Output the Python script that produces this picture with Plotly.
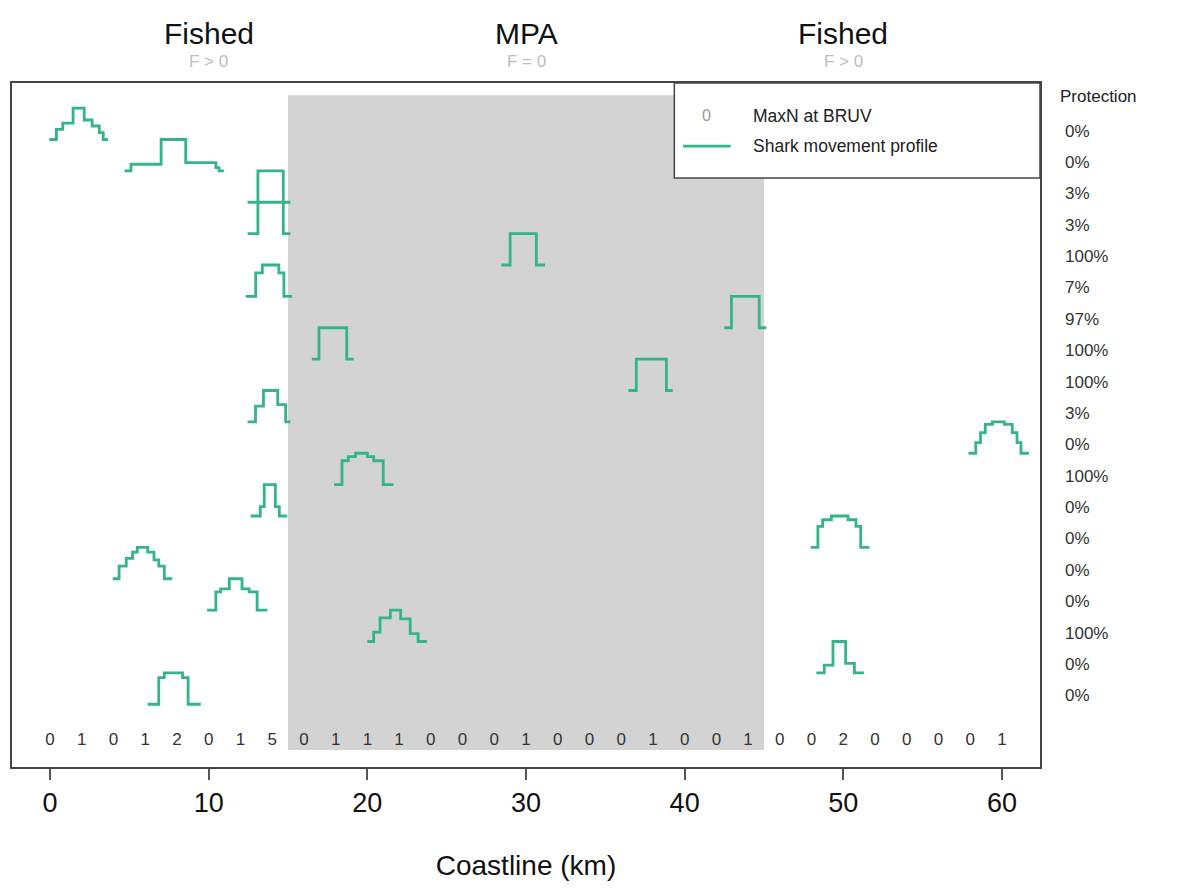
import plotly.graph_objects as go

# ---------------- data ----------------
bruv_km = [0, 2, 4, 6, 8, 10, 12, 14, 16, 18, 20, 22, 24, 26, 28, 30,
           32, 34, 36, 38, 40, 42, 44, 46, 48, 50, 52, 54, 56, 58, 60]
bruv_maxn = [0, 1, 0, 1, 2, 0, 1, 5, 0, 1, 1, 1, 0, 0, 0, 1,
             0, 0, 0, 1, 0, 0, 1, 0, 0, 2, 0, 0, 0, 0, 1]

protection = ["0%", "0%", "3%", "3%", "100%", "7%", "97%", "100%", "100%", "3%",
              "0%", "100%", "0%", "0%", "0%", "0%", "100%", "0%", "0%"]

# step edges (km) and relative heights for each shark movement profile (top row first)
profile_edges = [
    [-0.05, 0.4, 0.8, 1.45, 2.15, 2.65, 3.1, 3.35, 3.65],
    [4.7, 5.1, 7.0, 8.55, 10.45, 10.65, 10.95],
    [12.45, 13.1, 14.7, 15.15],
    [12.45, 13.1, 14.7, 15.15],
    [28.45, 29.0, 30.65, 31.2],
    [12.33, 12.96, 13.38, 14.42, 14.74, 15.26],
    [42.5, 42.95, 44.7, 45.15],
    [16.5, 16.95, 18.7, 19.15],
    [36.45, 36.95, 38.85, 39.25],
    [12.45, 12.95, 13.45, 14.35, 14.85, 15.15],
    [57.9, 58.35, 58.65, 58.95, 59.4, 60.15, 60.65, 60.95, 61.2, 61.7],
    [17.9, 18.4, 18.8, 19.25, 20.0, 20.4, 21.0, 21.65],
    [12.65, 13.25, 13.5, 14.2, 14.45, 14.95],
    [47.95, 48.4, 48.7, 49.25, 50.3, 50.8, 51.1, 51.65],
    [3.95, 4.35, 4.8, 5.2, 5.5, 6.15, 6.55, 6.85, 7.2, 7.7],
    [9.9, 10.45, 10.75, 11.3, 12.1, 12.55, 13.05, 13.7],
    [20.0, 20.4, 20.8, 21.45, 22.1, 22.7, 23.2, 23.75],
    [48.3, 48.8, 49.35, 50.15, 50.7, 51.3],
    [6.15, 6.85, 7.2, 8.35, 8.7, 9.5],
]
profile_heights = [
    [0, 0.32, 0.52, 1, 0.62, 0.43, 0.22, 0],
    [0, 0.21, 1, 0.26, 0.1, 0],
    [0, 1, 0],
    [0, 1, 0],
    [0, 1, 0],
    [0, 0.75, 1, 0.75, 0],
    [0, 1, 0],
    [0, 1, 0],
    [0, 1, 0],
    [0, 0.5, 1, 0.55, 0],
    [0, 0.34, 0.66, 0.92, 1, 0.92, 0.66, 0.34, 0],
    [0, 0.76, 0.89, 1, 0.89, 0.76, 0],
    [0, 0.3, 1, 0.3, 0],
    [0, 0.67, 0.88, 1, 0.88, 0.67, 0],
    [0, 0.4, 0.65, 0.85, 1, 0.85, 0.6, 0.4, 0],
    [0, 0.58, 0.68, 1, 0.68, 0.58, 0],
    [0, 0.3, 0.75, 1, 0.72, 0.25, 0],
    [0, 0.25, 1, 0.3, 0],
    [0, 0.85, 1, 0.85, 0],
]

zones = ["Fished", "MPA", "Fished"]
zone_sub = ["F > 0", "F = 0", "F > 0"]
zone_x = [10, 30, 50]
mpa_start, mpa_end = 15, 45
x_ticks = [0, 10, 20, 30, 40, 50, 60]

# ---------------- styling ----------------
TEAL = "#35b48a"
FONT = "Liberation Sans, Arial, Helvetica, sans-serif"
n_rows = len(protection)
XR = [-2.4, 62.4]
YR = [-1, 20.8]


def px(x):
    return (x - XR[0]) / (XR[1] - XR[0])


def py(y):
    return (y - YR[0]) / (YR[1] - YR[0])


fig = go.Figure()

for i, (edges, hts) in enumerate(zip(profile_edges, profile_heights)):
    base = n_rows - i  # row baseline (top row highest)
    ys = [base + h for h in hts] + [base]
    fig.add_trace(go.Scatter(x=edges, y=ys, mode="lines", line_shape="hv",
                             line=dict(color=TEAL, width=2.8),
                             showlegend=False, hoverinfo="skip"))

# BRUV counts
fig.add_trace(go.Scatter(x=bruv_km, y=[-0.17] * len(bruv_km), mode="text",
                         text=[str(v) for v in bruv_maxn],
                         textfont=dict(family=FONT, size=17, color="#333333"),
                         showlegend=False, hoverinfo="skip"))

shapes = [
    dict(type="rect", xref="x", yref="y", x0=mpa_start, x1=mpa_end, y0=-0.46, y1=20.41,
         fillcolor="#d3d3d3", line=dict(width=0), layer="below"),
    dict(type="rect", xref="x", yref="y", x0=39.35, x1=62.4, y0=17.77, y1=20.8,
         fillcolor="white", line=dict(color="#444444", width=1.5), layer="above"),
    dict(type="line", xref="x", yref="y", x0=39.9, x1=42.9, y0=18.79, y1=18.79,
         line=dict(color=TEAL, width=2.8), layer="above"),
]

annotations = []
for name, sub, zx in zip(zones, zone_sub, zone_x):
    annotations.append(dict(x=px(zx), y=py(22.39), xref="paper", yref="paper", text=name,
                            showarrow=False, font=dict(family=FONT, size=30, color="#111111"),
                            xanchor="center", yanchor="middle"))
    annotations.append(dict(x=px(zx), y=py(21.47), xref="paper", yref="paper", text=sub,
                            showarrow=False, font=dict(family=FONT, size=17, color="#bdbdbd"),
                            xanchor="center", yanchor="middle"))

annotations.append(dict(x=px(63.55), y=py(20.38), xref="paper", yref="paper", text="Protection",
                        showarrow=False, xanchor="left", yanchor="middle",
                        font=dict(family=FONT, size=17, color="#222222")))
for i, p in enumerate(protection):
    annotations.append(dict(x=px(63.85), y=py(n_rows - i + 0.27), xref="paper", yref="paper",
                            text=p, showarrow=False, xanchor="left", yanchor="middle",
                            font=dict(family=FONT, size=17, color="#333333")))

# legend contents
annotations.append(dict(x=41.35, y=19.75, xref="x", yref="y", text="0", showarrow=False,
                        xanchor="center", yanchor="middle",
                        font=dict(family=FONT, size=16, color="#999999")))
annotations.append(dict(x=44.2, y=19.75, xref="x", yref="y", text="MaxN at BRUV",
                        showarrow=False, xanchor="left", yanchor="middle",
                        font=dict(family=FONT, size=17.5, color="#222222")))
annotations.append(dict(x=44.2, y=18.79, xref="x", yref="y", text="Shark movement profile",
                        showarrow=False, xanchor="left", yanchor="middle",
                        font=dict(family=FONT, size=17.5, color="#222222")))

fig.update_layout(
    width=1179, height=889,
    margin=dict(l=4, r=147, t=75, b=130),
    paper_bgcolor="white", plot_bgcolor="white",
    shapes=shapes, annotations=annotations,
    font=dict(family=FONT),
    xaxis=dict(range=XR, tickvals=x_ticks, ticks="outside", ticklen=11,
               tickwidth=1.5, tickcolor="#555555",
               tickfont=dict(family=FONT, size=27, color="#111111"),
               showgrid=False, zeroline=False, showline=True, mirror=True,
               linecolor="#444444", linewidth=2,
               title=dict(text="Coastline (km)", font=dict(family=FONT, size=28, color="#111111"),
                          standoff=38)),
    yaxis=dict(range=YR, showticklabels=False, ticks="", showgrid=False,
               zeroline=False, showline=True, mirror=True, linecolor="#444444", linewidth=2),
)

fig.write_html("out.html")
